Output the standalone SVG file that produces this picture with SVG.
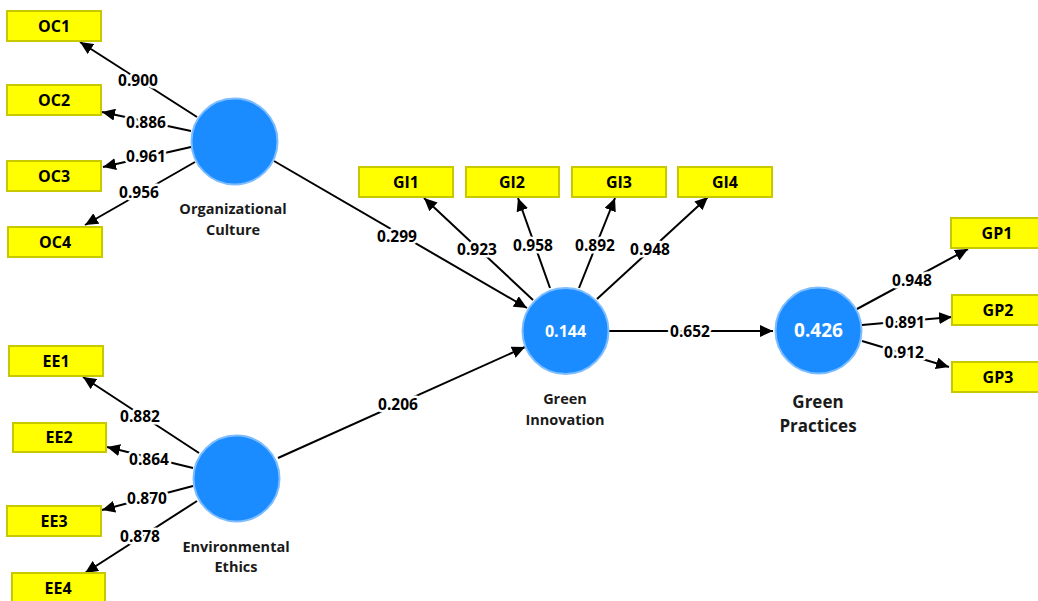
<svg xmlns="http://www.w3.org/2000/svg" width="1038" height="601" viewBox="0 0 1038 601">
<style>
.bg{fill:#ffffff}
.ind rect{fill:#ffff00;stroke:#c8c800;stroke-width:2}
.ind text{font-family:"Open Sans","Noto Sans",sans-serif;font-weight:700;font-size:16px;fill:#000;text-anchor:middle}
.lv circle{fill:#1a8cff;stroke:#7dbdff;stroke-width:2}
.lv text{font-family:"Open Sans","Noto Sans",sans-serif;font-weight:700;font-size:14.5px;fill:#1a1a1a;text-anchor:middle}
.lv text.val{fill:#ffffff;font-size:16px}
.lv text.big{font-size:17px}
.lv text.val.big{font-size:19px}
.conn line{stroke:#000;stroke-width:2;marker-end:url(#ah)}
.conn text{font-family:"Open Sans","Noto Sans",sans-serif;font-weight:700;font-size:15.5px;fill:#000;text-anchor:middle;stroke:#fff;stroke-width:5;paint-order:stroke;stroke-linejoin:round}
</style>
<defs>
<marker id="ah" markerUnits="userSpaceOnUse" markerWidth="13" markerHeight="12" refX="13" refY="6" orient="auto">
<path d="M0,0 L13,6 L0,12 z" fill="#000"/>
</marker>
</defs>
<rect class="bg" x="0" y="0" width="1038" height="601"/>

<g id="connectors" class="conn">
<line x1="197" y1="117" x2="80" y2="42"/>
<line x1="191" y1="131" x2="102" y2="112"/>
<line x1="191" y1="147" x2="103" y2="167"/>
<line x1="195" y1="162" x2="85" y2="225"/>
<line x1="274" y1="161" x2="527" y2="308"/>
<line x1="278" y1="458" x2="525" y2="347"/>
<line x1="199" y1="453" x2="83" y2="377"/>
<line x1="193" y1="468" x2="107" y2="447"/>
<line x1="193" y1="486" x2="102" y2="510"/>
<line x1="197" y1="501" x2="85" y2="573"/>
<line x1="533" y1="300" x2="424" y2="198"/>
<line x1="550" y1="288" x2="518" y2="198"/>
<line x1="579" y1="288" x2="615" y2="198"/>
<line x1="597" y1="299" x2="708" y2="197"/>
<line x1="609" y1="331" x2="773" y2="331"/>
<line x1="857" y1="309" x2="968" y2="249"/>
<line x1="862" y1="325" x2="952" y2="317"/>
<line x1="862" y1="341" x2="949" y2="367"/>
<text x="138" y="86">0.900</text>
<text x="146" y="128">0.886</text>
<text x="146" y="162">0.961</text>
<text x="139" y="198">0.956</text>
<text x="397" y="242">0.299</text>
<text x="398" y="410">0.206</text>
<text x="140" y="422">0.882</text>
<text x="149" y="465">0.864</text>
<text x="147" y="504">0.870</text>
<text x="140" y="542">0.878</text>
<text x="477" y="255">0.923</text>
<text x="533" y="251">0.958</text>
<text x="595" y="251">0.892</text>
<text x="650" y="255">0.948</text>
<text x="690" y="337">0.652</text>
<text x="912" y="286">0.948</text>
<text x="905" y="328">0.891</text>
<text x="904" y="358">0.912</text>
</g>

<g id="OC" class="lv"><circle cx="234.5" cy="141.5" r="43"/><text x="233" y="214">Organizational</text><text x="233" y="235">Culture</text></g>
<g id="EE" class="lv"><circle cx="236.5" cy="478.5" r="43"/><text x="236" y="552">Environmental</text><text x="236" y="572">Ethics</text></g>
<g id="GI" class="lv"><circle cx="565.5" cy="331" r="43"/><text class="val" x="565.5" y="337">0.144</text><text x="565" y="404">Green</text><text x="565" y="425">Innovation</text></g>
<g id="GP" class="lv"><circle cx="818.5" cy="330.5" r="43"/><text class="val big" x="818.5" y="337">0.426</text><text class="big" x="818" y="408">Green</text><text class="big" x="818" y="432">Practices</text></g>

<g id="OC1" class="ind"><rect x="7" y="11" width="94" height="30"/><text x="54" y="32">OC1</text></g>
<g id="OC2" class="ind"><rect x="7" y="85" width="94" height="30"/><text x="54" y="106">OC2</text></g>
<g id="OC3" class="ind"><rect x="7" y="161" width="94" height="30"/><text x="54" y="182">OC3</text></g>
<g id="OC4" class="ind"><rect x="8" y="227" width="94" height="30"/><text x="55" y="248">OC4</text></g>
<g id="EE1" class="ind"><rect x="9" y="346" width="94" height="30"/><text x="56" y="367">EE1</text></g>
<g id="EE2" class="ind"><rect x="13" y="423" width="93" height="29"/><text x="59" y="443">EE2</text></g>
<g id="EE3" class="ind"><rect x="7" y="506" width="94" height="30"/><text x="54" y="527">EE3</text></g>
<g id="EE4" class="ind"><rect x="12" y="573" width="93" height="30"/><text x="58" y="594">EE4</text></g>
<g id="GI1" class="ind"><rect x="359" y="167" width="94" height="30"/><text x="406" y="188">GI1</text></g>
<g id="GI2" class="ind"><rect x="466" y="167" width="93" height="30"/><text x="512" y="188">GI2</text></g>
<g id="GI3" class="ind"><rect x="572" y="167" width="94" height="30"/><text x="619" y="188">GI3</text></g>
<g id="GI4" class="ind"><rect x="678" y="167" width="94" height="30"/><text x="725" y="188">GI4</text></g>
<g id="GP1" class="ind"><rect x="951" y="218" width="94" height="30"/><text x="997" y="239">GP1</text></g>
<g id="GP2" class="ind"><rect x="952" y="295" width="94" height="30"/><text x="998" y="316">GP2</text></g>
<g id="GP3" class="ind"><rect x="952" y="362" width="94" height="30"/><text x="998" y="383">GP3</text></g>
</svg>
